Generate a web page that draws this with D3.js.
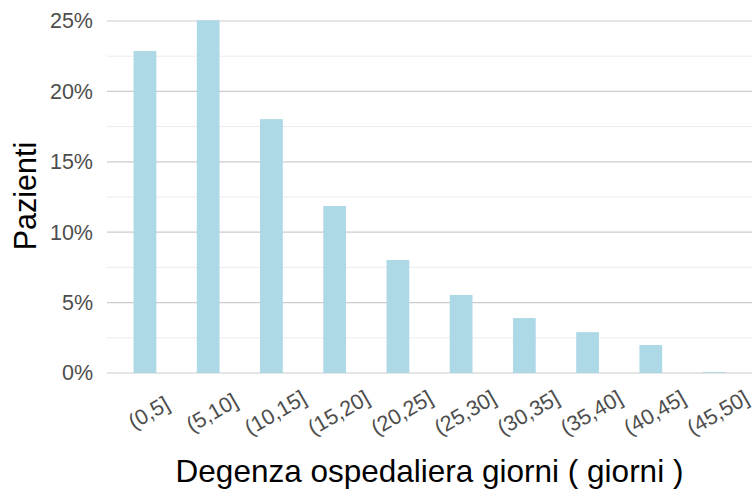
<!DOCTYPE html>
<html>
<head>
<meta charset="utf-8">
<script src="https://cdn.jsdelivr.net/npm/d3@7"></script>
<style>
  body { margin: 0; background: #fff; }
  text { font-family: "Liberation Sans", Arial, sans-serif; }
</style>
</head>
<body>
<div id="chart"></div>
<script>
// categories (length of stay bins)
const categories = ['(0,5]', '(5,10]', '(10,15]', '(15,20]', '(20,25]',
                    '(25,30]', '(30,35]', '(35,40]', '(40,45]', '(45,50]']

// share of patients, percent
const patientShare = [22.87, 25.05, 18.03, 11.86, 8.02, 5.54, 3.9, 2.9, 1.99, 0.06]

// y ticks
const majorTicks = [0, 5, 10, 15, 20, 25]
const minorTicks = [2.5, 7.5, 12.5, 17.5, 22.5]

const width = 755, height = 491
const panel = { left: 107, right: 752, top: 3, bottom: 390 }

const svg = d3.select('#chart').append('svg')
  .attr('width', width)
  .attr('height', height)

// x scale - bins
const xPositionScale = d3.scaleBand()
  .domain(categories)
  .range([panel.left, panel.right])
  .paddingInner(0.64)
  .paddingOuter(0.42)

// y scale - percent
const yPositionScale = d3.scaleLinear()
  .domain([0, 25])
  .range([373, 21])

// minor grid
svg.append('g')
  .selectAll('line')
  .data(minorTicks)
  .join('line')
  .attr('x1', panel.left)
  .attr('x2', panel.right)
  .attr('y1', d => yPositionScale(d))
  .attr('y2', d => yPositionScale(d))
  .attr('stroke', '#ebebeb')
  .attr('stroke-width', 1)

// major grid
svg.append('g')
  .selectAll('line')
  .data(majorTicks)
  .join('line')
  .attr('x1', panel.left)
  .attr('x2', panel.right)
  .attr('y1', d => yPositionScale(d))
  .attr('y2', d => yPositionScale(d))
  .attr('stroke', '#cccccc')
  .attr('stroke-width', 1.2)

// bars
svg.append('g')
  .selectAll('rect')
  .data(categories)
  .join('rect')
  .attr('x', d => xPositionScale(d))
  .attr('width', xPositionScale.bandwidth())
  .attr('y', (d, i) => yPositionScale(patientShare[i]))
  .attr('height', (d, i) => yPositionScale(0) - yPositionScale(patientShare[i]))
  .attr('fill', '#add8e6')

// y axis
const yAxis = d3.axisLeft(yPositionScale)
  .tickValues(majorTicks)
  .tickFormat(d => d + '%')
  .tickSize(0)
  .tickPadding(14)
svg.append('g')
  .attr('class', 'axis y-axis')
  .attr('transform', 'translate(' + panel.left + ',0)')
  .call(yAxis)
  .call(g => g.select('.domain').remove())
  .selectAll('text')
  .attr('font-size', 21.5)
  .attr('fill', '#4d4d4d')

// x axis
const xAxis = d3.axisBottom(xPositionScale).tickSize(0)
svg.append('g')
  .attr('class', 'axis x-axis')
  .attr('transform', 'translate(0,' + panel.bottom + ')')
  .call(xAxis)
  .call(g => g.select('.domain').remove())
  .selectAll('text')
  .attr('font-size', 21.5)
  .attr('fill', '#4d4d4d')
  .attr('text-anchor', 'middle')
  .attr('dy', null)
  .attr('x', 0)
  .attr('y', 0)
  .attr('dominant-baseline', 'central')
  .attr('transform', 'translate(4,23) rotate(-30)')

// axis titles
svg.append('text')
  .attr('x', (panel.left + panel.right) / 2)
  .attr('y', 482)
  .attr('text-anchor', 'middle')
  .attr('font-size', 31.5)
  .attr('fill', '#000')
  .text('Degenza ospedaliera giorni ( giorni )')

svg.append('text')
  .attr('transform', 'translate(36,196) rotate(-90)')
  .attr('text-anchor', 'middle')
  .attr('font-size', 30.5)
  .attr('fill', '#000')
  .text('Pazienti')
</script>
</body>
</html>
